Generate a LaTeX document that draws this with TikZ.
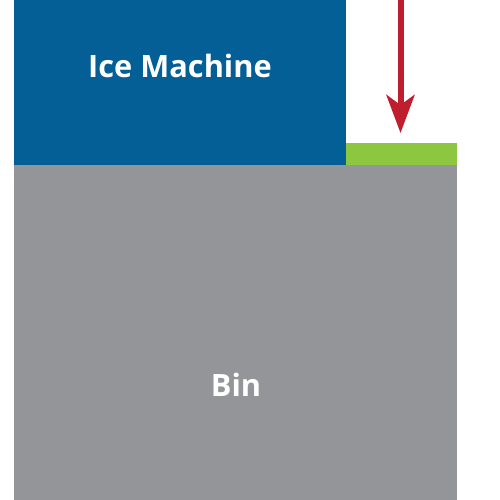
\documentclass[tikz,border=0pt]{standalone}
\usepackage{fontspec}
\setmainfont{Open Sans}
\usepackage{tikz}
\usetikzlibrary{positioning,arrows.meta}

\definecolor{iceblue}{HTML}{035F96}
\definecolor{bingray}{HTML}{939598}
\definecolor{chutegreen}{HTML}{8DC63F}
\definecolor{droppred}{HTML}{BE1E2D}

\begin{document}
\begin{tikzpicture}
		[
			x=0.2mm, y=-0.2mm,
			every node/.style={rectangle, inner sep=0pt, outer sep=0pt},
			block/.style={anchor=north west},
			caption/.style={text=white, font=\bfseries\fontsize{17.5}{17.5}\selectfont}
		]
		\useasboundingbox (0,0) rectangle (500,500);

		\node (machine) [block, fill=iceblue, minimum width=66.4mm, minimum height=33mm] at (14,0) {};
		\node (bin) [block, fill=bingray, minimum width=88.6mm, minimum height=67mm] at (14,165) {};
		\node (chute) [block, fill=chutegreen, minimum width=22.2mm, minimum height=4.4mm] at (346,143) {};

		\node (machinetext) [caption] at (180,66) {Ice Machine};
		\node (bintext) [caption] at (236,385) {Bin};

		\coordinate (drop) at (400.5,0);
		\coordinate (stop) at (400.5,133);
		\draw[-{Stealth[length=7.6mm, width=5.6mm, inset=2mm]}, line width=1.2mm, droppred] (drop) -- (stop);
	\end{tikzpicture}
\end{document}
